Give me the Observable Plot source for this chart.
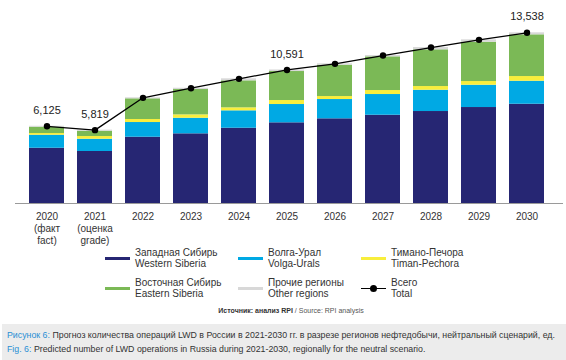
<!DOCTYPE html>
<html><head><meta charset="utf-8">
<script src="https://cdn.jsdelivr.net/npm/d3@7"></script>
<script src="https://cdn.jsdelivr.net/npm/@observablehq/plot@0.6"></script>
<style>
body{margin:0;background:#fff;font-family:"Liberation Sans",Arial,sans-serif;color:#222;}
#wrap{position:relative;width:566px;height:360px;overflow:hidden;}
#chart{position:absolute;left:0;top:0;}
.lg{position:absolute;font-size:10px;line-height:11px;color:#333;}
.sw{position:absolute;width:25px;height:3px;}
.src{position:absolute;left:0;width:582px;top:307px;text-align:center;font-size:7px;color:#555;}
.src b{color:#333;font-weight:bold;}
.cap{position:absolute;left:2px;top:324px;width:564px;height:36px;background:#ececec;font-size:8.8px;line-height:13.5px;color:#333;padding:5px 0 0 5px;box-sizing:border-box;white-space:nowrap;}
.cap span{color:#2a8fd4;}
</style></head>
<body><div id="wrap"><div id="chart"></div></div>
<script>
const years = ["2020","2021","2022","2023","2024","2025","2026","2027","2028","2029","2030"];
const tickLabels = ["2020\n(факт\nfact)","2021\n(оценка\ngrade)","2022","2023","2024","2025","2026","2027","2028","2029","2030"];
const westernSiberia = [4385,4124,5258,5527,5971,6400,6717,7002,7296,7613,7875];
const volgaUrals     = [1031,975,1165,1238,1380,1451,1530,1642,1689,1768,1824];
const timanPechora   = [135,214,238,265,238,317,238,317,293,294,372];
const easternSiberia = [500,420,1642,2010,2141,2300,2482,2672,2911,3117,3307];
const otherRegions   = [74,86,79,103,159,123,111,104,182,190,160];
const totals         = [6125,5819,8382,9143,9889,10591,11078,11737,12371,12982,13538];
const totalLabels    = ["6,125","5,819","","","","10,591","","","","","13,538"];
const regionsRu = ["Западная Сибирь","Волга-Урал","Тимано-Печора","Восточная Сибирь","Прочие регионы","Всего"];
const regionsEn = ["Western Siberia","Volga-Urals","Timan-Pechora","Eastern Siberia","Other regions","Total"];
const colors = ["#262673","#00a9e4","#f8ee3c","#7bb956","#d8d8d8","#000"];

const series = [westernSiberia, volgaUrals, timanPechora, easternSiberia, otherRegions];
const stacked = [];
series.forEach((s, k) => s.forEach((v, i) => stacked.push({year: years[i], region: regionsEn[k], value: v})));
const totalData = years.map((y, i) => ({year: y, total: totals[i], label: totalLabels[i]}));

const chart = Plot.plot({
  width: 566, height: 246,
  marginLeft: 15, marginRight: 7, marginTop: 26.5, marginBottom: 43,
  style: {fontFamily: '"Liberation Sans", Arial, sans-serif', background: "transparent"},
  x: {domain: years, paddingInner: 0.27, paddingOuter: 0.24, axis: null, label: null},
  y: {domain: [0, 14000], axis: null},
  color: {domain: regionsEn.slice(0,5), range: colors.slice(0,5)},
  marks: [
    Plot.barY(stacked, {x: "year", y: "value", fill: "region", order: regionsEn.slice(0,5)}),
    Plot.ruleY([0], {stroke: "#9a9a9a", strokeWidth: 1, insetRight: -4}),
    Plot.axisX({tickSize: 0, tickPadding: 8, fontSize: 10, lineHeight: 1.2, fill: "#333", label: null,
      tickFormat: (d) => tickLabels[years.indexOf(d)]}),
    Plot.line(totalData, {x: "year", y: "total", stroke: "#000", strokeWidth: 1.3}),
    Plot.dot(totalData, {x: "year", y: "total", r: 3.2, fill: "#000"}),
    Plot.text(totalData, {x: "year", y: "total", text: "label", dy: -16, fontSize: 11, fill: "#222"})
  ]
});
document.getElementById("chart").appendChild(chart);

const wrap = document.getElementById("wrap");
const cols = [105, 238, 361];
const rows = [247, 277];
regionsRu.forEach((ru, k) => {
  const r = k < 3 ? 0 : 1, c = k % 3;
  const sw = document.createElement("div");
  sw.className = "sw";
  sw.style.left = cols[c] + "px";
  sw.style.top = (rows[r] + 10) + "px";
  sw.style.background = colors[k];
  if (k === 5) {
    sw.style.height = "1.3px";
    sw.style.top = (rows[r] + 11) + "px";
    const d = document.createElement("div");
    d.style.cssText = "position:absolute;width:7px;height:7px;border-radius:50%;background:#000;left:9px;top:-3px;";
    sw.appendChild(d);
  }
  wrap.appendChild(sw);
  const t = document.createElement("div");
  t.className = "lg";
  t.style.left = (cols[c] + 30) + "px";
  t.style.top = rows[r] + "px";
  t.innerHTML = ru + "<br>" + regionsEn[k];
  wrap.appendChild(t);
});
const src = document.createElement("div");
src.className = "src";
src.innerHTML = "<b>Источник: анализ RPI</b> / Source: RPI analysis";
wrap.appendChild(src);
const cap = document.createElement("div");
cap.className = "cap";
cap.innerHTML = "<span>Рисунок 6:</span> Прогноз количества операций LWD в России в 2021-2030 гг. в разрезе регионов нефтедобычи, нейтральный сценарий, ед.<br><span>Fig. 6:</span> Predicted number of LWD operations in Russia during 2021-2030, regionally for the neutral scenario.";
wrap.appendChild(cap);
</script>
</body></html>
